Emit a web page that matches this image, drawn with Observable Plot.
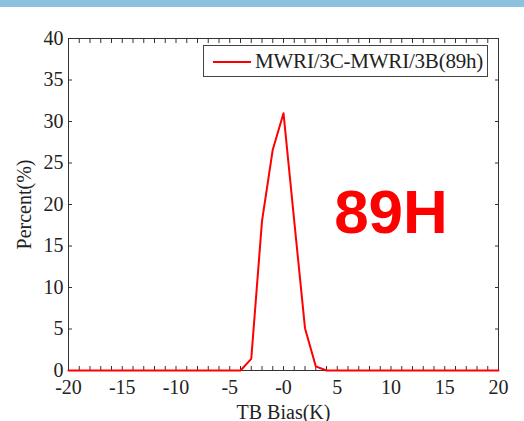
<!DOCTYPE html>
<html><head><meta charset="utf-8">
<script src="https://cdn.jsdelivr.net/npm/d3@7"></script>
<script src="https://cdn.jsdelivr.net/npm/@observablehq/plot@0.6"></script>
<style>
body{margin:0;background:#fff;}
#wrap{position:relative;width:524px;height:421px;overflow:hidden;background:#fff;}
#bar{position:absolute;left:0;top:0;width:524px;height:7px;background:#8cc2df;}
#legend{position:absolute;left:203px;top:45px;width:285px;height:32px;border:1px solid #444;background:#fff;font-family:"Liberation Serif",serif;font-size:21px;color:#222;box-sizing:border-box;}
#legend .sw{position:absolute;left:9px;top:15px;width:38px;height:2px;background:#ff0000;}
#legend .lb{position:absolute;left:51px;top:3px;white-space:nowrap;letter-spacing:-0.2px;}
#chart{position:absolute;left:0;top:0;}
</style></head>
<body>
<div id="wrap">
  <div id="chart"></div>
  <div id="bar"></div>
  <div id="legend"><div class="sw"></div><div class="lb">MWRI/3C-MWRI/3B(89h)</div></div>
</div>
<script>
// Data (TB bias bins in K, percent)
const bias = [-20,-19,-18,-17,-16,-15,-14,-13,-12,-11,-10,-9,-8,-7,-6,-5,-4,-3,-2,-1,0,1,2,3,4,5,6,7,8,9,10,11,12,13,14,15,16,17,18,19,20];
const percent = [0,0,0,0,0,0,0,0,0,0,0,0,0,0,0,0,0,1.4,18,26.6,31,18,5.1,0.5,0,0,0,0,0,0,0,0,0,0,0,0,0,0,0,0,0];
const xTickValues = [-20,-15,-10,-5,0,5,10,15,20];
const xTickLabels = ["-20","-15","-10","-5","-0","5","10","15","20"];
const xMinorTicks = [-20,-19,-18,-17,-16,-15,-14,-13,-12,-11,-10,-9,-8,-7,-6,-5,-4,-3,-2,-1,0,1,2,3,4,5,6,7,8,9,10,11,12,13,14,15,16,17,18,19,20];
const yTickValues = [0,5,10,15,20,25,30,35,40];
const yTickLabels = ["0","5","10","15","20","25","30","35","40"];
const annLabel = ["89H"];
const annX = [10];
const annY = [19];

const data = bias.map((b, i) => ({bias: b, percent: percent[i]}));
const ann = annLabel.map((t, i) => ({t, x: annX[i], y: annY[i]}));
const serif = "'Liberation Serif', serif";

const plot = Plot.plot({
  width: 524,
  height: 421,
  marginLeft: 68,
  marginRight: 26,
  marginTop: 38,
  marginBottom: 51,
  style: {fontFamily: serif, fontSize: "20px", color: "#222", background: "transparent"},
  x: {domain: [-20, 20]},
  y: {domain: [0, 40]},
  marks: [
    Plot.axisX({anchor: "bottom", ticks: xMinorTicks, tickSize: -4, text: null, label: null, stroke: "#333"}),
    Plot.axisX({anchor: "top", ticks: xMinorTicks, tickSize: -4, text: null, label: null, stroke: "#333"}),
    Plot.axisY({anchor: "left", ticks: yTickValues, tickSize: -4, text: null, label: null, stroke: "#333"}),
    Plot.axisY({anchor: "right", ticks: yTickValues, tickSize: -4, text: null, label: null, stroke: "#333"}),
    Plot.axisX({anchor: "bottom", ticks: xTickValues, tickFormat: (d) => xTickLabels[xTickValues.indexOf(d)], tickSize: 0, tickPadding: 9, fontSize: 20, fontFamily: serif,
      label: "TB Bias(K)", labelAnchor: "center", labelArrow: "none", labelOffset: 48}),
    Plot.axisY({anchor: "left", ticks: yTickValues, tickFormat: (d) => yTickLabels[yTickValues.indexOf(d)], tickSize: 0, tickPadding: 5, fontSize: 20, fontFamily: serif,
      label: "Percent(%)", labelAnchor: "center", labelArrow: "none", labelOffset: 52}),
    Plot.frame({stroke: "#333", strokeWidth: 1}),
    Plot.line(data, {x: "bias", y: "percent", stroke: "#ff0000", strokeWidth: 2}),
    Plot.text(ann, {x: "x", y: "y", text: "t", fill: "#ff0000", fontSize: 62, fontWeight: "bold"})
  ]
});
plot.querySelectorAll("text").forEach(t => {
  if (t.textContent === "89H") t.style.fontFamily = "'Liberation Sans', sans-serif";
});
document.getElementById("chart").appendChild(plot);
</script>
</body></html>
